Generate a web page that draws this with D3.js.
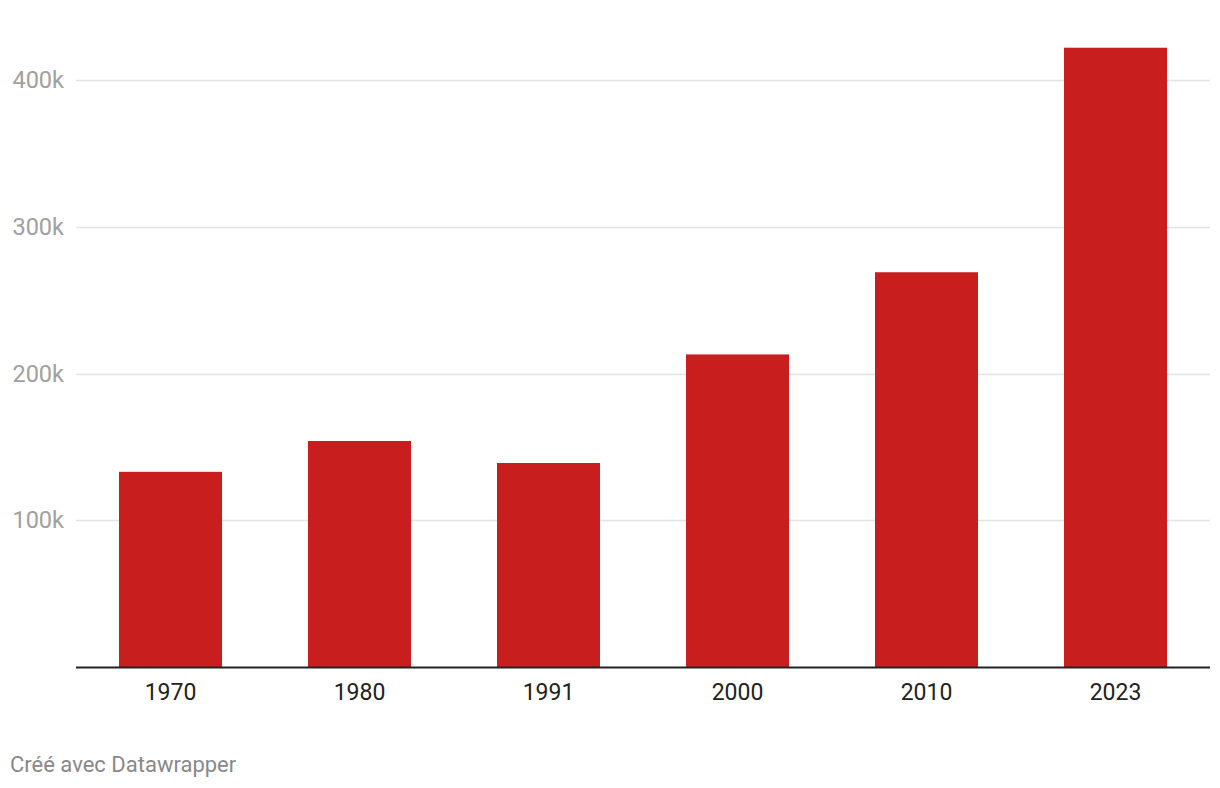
<!DOCTYPE html>
<html>
<head>
<meta charset="utf-8">
<script src="https://cdn.jsdelivr.net/npm/d3@7"></script>
<style>
  html, body { margin: 0; padding: 0; background: #fff; }
  svg { display: block; font-family: Roboto, "Noto Sans", sans-serif; }
</style>
</head>
<body>
<svg id="chart" width="1220" height="788"></svg>
<script>
const categories = ["1970", "1980", "1991", "2000", "2010", "2023"];
const values = [133000, 154000, 139000, 213000, 269000, 422000];
const yTicks = [100000, 200000, 300000, 400000];
const yTickLabels = ["100k", "200k", "300k", "400k"];
const footerText = "Créé avec Datawrapper";

const svg = d3.select("#chart");
const left = 76, right = 1210, baseY = 667, topY = 80;

const x = d3.scaleBand().domain(categories).range([left, right])
  .paddingInner(0.455).paddingOuter(0.2275);
const y = d3.scaleLinear().domain([0, 400000]).range([baseY, topY]);

// gridlines
svg.append("g").selectAll("line").data(yTicks).join("line")
  .attr("x1", left).attr("x2", right)
  .attr("y1", d => Math.round(y(d)) + 0.5).attr("y2", d => Math.round(y(d)) + 0.5)
  .attr("stroke", "#e3e3e3").attr("stroke-width", 1.5);

// y labels
svg.append("g").selectAll("text").data(yTicks).join("text")
  .attr("x", 64).attr("y", d => y(d))
  .attr("dy", "0.35em")
  .attr("text-anchor", "end")
  .attr("font-size", 23.5)
  .attr("fill", "#a0a0a0")
  .text((d, i) => yTickLabels[i]);

// bars
svg.append("g").selectAll("rect").data(values).join("rect")
  .attr("x", (d, i) => x(categories[i]))
  .attr("width", x.bandwidth())
  .attr("y", d => y(d))
  .attr("height", d => baseY - y(d))
  .attr("fill", "#c81e1e");

// baseline
svg.append("line")
  .attr("x1", left).attr("x2", right)
  .attr("y1", baseY + 0.5).attr("y2", baseY + 0.5)
  .attr("stroke", "#222").attr("stroke-width", 2);

// x labels
const xAxis = d3.axisBottom(x).tickSize(0).tickPadding(0);
const gx = svg.append("g").attr("transform", `translate(0,${baseY})`).call(xAxis);
gx.select(".domain").remove();
gx.selectAll("text")
  .attr("y", 33)
  .attr("dy", 0)
  .attr("font-size", 23)
  .attr("font-family", "Roboto, 'Noto Sans', sans-serif")
  .attr("fill", "#222");

// footer
svg.append("text")
  .attr("x", 10).attr("y", 772)
  .attr("font-size", 22)
  .attr("fill", "#888")
  .text(footerText);
</script>
</body>
</html>
